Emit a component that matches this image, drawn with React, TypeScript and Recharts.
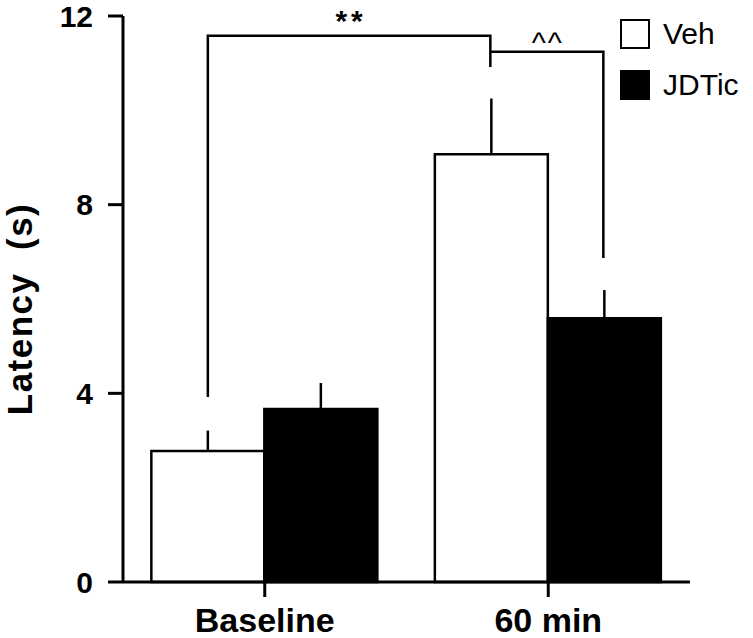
import React from 'react'
import {
  BarChart, Bar, XAxis, YAxis, ErrorBar, LabelList, Legend,
} from 'recharts'

const FONT = "'Liberation Sans', Arial, Helvetica, sans-serif"

const categories = ['Baseline', '60 min']
const vehMeans = [2.78, 9.07]
const vehSem = [0.43, 1.18]
const jdticMeans = [3.67, 5.59]
const jdticSem = [0.55, 0.6]
const yTicks = [0, 4, 8, 12]

// significance brackets: [category, series] of each end, heights in axis units
const bracketLabels = ['**', '^^']
const bracketFrom = [[0, 0], [1, 0]]
const bracketTo = [[1, 0], [1, 1]]
const bracketTop = [11.58, 11.24]
const bracketLeftEnd = [3.92, 11.24]
const bracketRightEnd = [10.92, 6.87]

const GAP = 0.1 // barCategoryGap as a fraction of the band
const SERIES = 2

const data = categories.map((name, i) => ({
  name,
  veh: vehMeans[i],
  vehErr: [0, vehSem[i]],
  jdtic: jdticMeans[i],
  jdticErr: [0, jdticSem[i]],
}))

// drawn from the geometry of the first Veh bar that recharts laid out
function Brackets(props: any) {
  if (props.index !== 0) return null
  const vb = props.viewBox && props.viewBox.width != null ? props.viewBox : props
  const { x, y, width, height } = vb
  const unit = height / vehMeans[0]
  const base = y + height
  const band = (width * SERIES) / (1 - 2 * GAP)
  const start = x - GAP * band
  const cx = ([c, s]: number[]) => start + c * band + GAP * band + (s + 0.5) * width
  const cy = (v: number) => base - v * unit
  return (
    <g>
      {bracketLabels.map((lab, i) => {
        const x1 = cx(bracketFrom[i])
        const x2 = cx(bracketTo[i])
        const top = cy(bracketTop[i])
        const bold = lab === '**'
        return (
          <g key={lab}>
            <polyline
              points={`${x1},${cy(bracketLeftEnd[i])} ${x1},${top} ${x2},${top} ${x2},${cy(bracketRightEnd[i])}`}
              fill="none" stroke="#000" strokeWidth={2.5}
            />
            <text
              x={(x1 + x2) / 2 + (bold ? 2 : 1)} y={top + (bold ? -4.5 : 1.5)} textAnchor="middle"
              fontFamily={FONT} fontSize={30} fontWeight={bold ? 'bold' : 'normal'} fill="#000"
              letterSpacing={bold ? 4 : 2}
            >
              {lab}
            </text>
          </g>
        )
      })}
    </g>
  )
}

function LegendBox() {
  const rows = [
    { label: 'Veh', fill: '#fff' },
    { label: 'JDTic', fill: '#000' },
  ]
  return (
    <div style={{ fontFamily: FONT, fontSize: 30, color: '#000' }}>
      {rows.map((r, i) => (
        <div key={r.label} style={{ display: 'flex', alignItems: 'center', height: 30, marginBottom: i === 0 ? 21 : 0 }}>
          <div style={{ width: 30, height: 30, boxSizing: 'border-box', border: '2.5px solid #000', background: r.fill }} />
          <span style={{ marginLeft: 13, lineHeight: '30px' }}>{r.label}</span>
        </div>
      ))}
    </div>
  )
}

function YLabel(props: any) {
  const vb = props.viewBox || { y: 16, height: 566 }
  const cy = vb.y + vb.height / 2 + 10
  return (
    <text
      x={32} y={cy} transform={`rotate(-90, 32, ${cy})`} textAnchor="middle"
      fontFamily={FONT} fontSize={35} fontWeight="bold" fill="#000"
      letterSpacing={1.5} style={{ whiteSpace: 'pre' }}
    >
      {'Latency  (s)'}
    </text>
  )
}

export default function App() {
  return (
    <div style={{ position: 'absolute', left: 0, top: 0, width: 753, height: 638, background: '#fff' }}>
      <BarChart
        width={753} height={638} data={data}
        margin={{ top: 16, right: 63, left: 0, bottom: 0 }}
        barCategoryGap={`${GAP * 100}%`} barGap={0}
      >
        <XAxis
          dataKey="name" height={56}
          axisLine={{ stroke: '#000', strokeWidth: 3 }}
          tickLine={{ stroke: '#000', strokeWidth: 3 }}
          tickSize={15} tickMargin={11}
          tick={{ fill: '#000', fontSize: 34, fontWeight: 'bold', fontFamily: FONT }}
        />
        <YAxis
          width={123} domain={[0, 12]} ticks={yTicks} interval={0}
          axisLine={{ stroke: '#000', strokeWidth: 3 }}
          tickLine={{ stroke: '#000', strokeWidth: 3 }}
          tickSize={15} tickMargin={15}
          tick={{ fill: '#000', fontSize: 30, fontWeight: 'bold', fontFamily: FONT }}
          label={<YLabel />}
        />
        <Legend
          layout="horizontal" align="center" verticalAlign="middle"
          content={<LegendBox />}
          wrapperStyle={{ left: 620, top: 19, width: 133, height: 90 }}
        />
        <Bar dataKey="veh" fill="#fff" stroke="#000" strokeWidth={2.5} isAnimationActive={false}>
          <ErrorBar dataKey="vehErr" direction="y" width={0} stroke="#000" strokeWidth={2.5} />
          <LabelList dataKey="veh" content={<Brackets />} />
        </Bar>
        <Bar dataKey="jdtic" fill="#000" stroke="#000" strokeWidth={2.5} isAnimationActive={false}>
          <ErrorBar dataKey="jdticErr" direction="y" width={0} stroke="#000" strokeWidth={2.5} />
        </Bar>
      </BarChart>
    </div>
  )
}
